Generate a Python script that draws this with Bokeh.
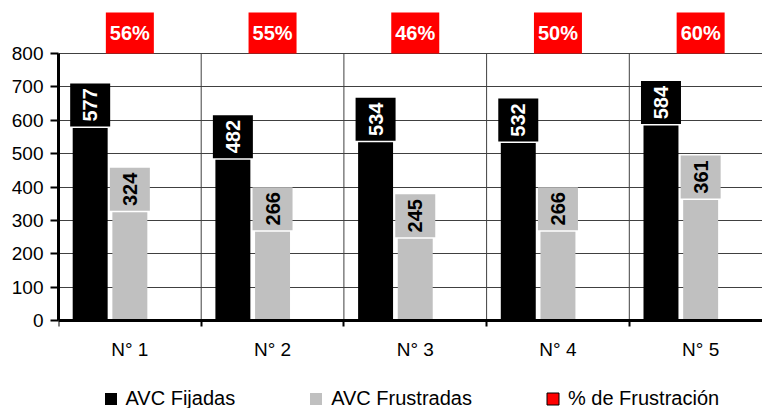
import numpy as np
from bokeh.plotting import figure
from bokeh.models import Range1d, FixedTicker, Legend, LegendItem
from bokeh.core.properties import value
from bokeh.embed import file_html
from bokeh.resources import INLINE

# ---- data ----
categories = ["N° 1", "N° 2", "N° 3", "N° 4", "N° 5"]
fijadas = [577, 482, 534, 532, 584]
frustradas = [324, 266, 245, 266, 361]
frustracion_pct = [56, 55, 46, 50, 60]
y_ticks = [0, 100, 200, 300, 400, 500, 600, 700, 800]
series_names = ["AVC Fijadas", "AVC Frustradas", "% de Frustración"]

# ---- geometry ----
W, H = 762, 408
BORDER_LEFT, BORDER_TOP = 58, 10
AXIS_Y_PX = 320          # pixel row of value 0
frame_w = W - BORDER_LEFT
CAT_PX = 142.7           # pixels per category
Y_PX = 0.33375           # pixels per value unit
x_end = frame_w / CAT_PX
y_end = (AXIS_Y_PX - BORDER_TOP) / Y_PX
y_start = -(H - AXIS_Y_PX) / Y_PX
y_max = y_ticks[-1]

FONT = value("Liberation Sans")
GRID = "#404040"

p = figure(width=W, height=H, x_range=Range1d(0, x_end), y_range=Range1d(y_start, y_end),
           output_backend="svg", toolbar_location=None,
           min_border_left=BORDER_LEFT, min_border_right=0,
           min_border_top=BORDER_TOP, min_border_bottom=0)
p.outline_line_color = None
p.background_fill_color = "white"
p.border_fill_color = "white"

n = len(categories)
xs = np.arange(n)
fx = xs + 0.5 - 0.278
gx = xs + 0.5
px_ = xs + 0.5 + 0.278
cx = xs + 0.5

# category separators
p.segment(x0=xs[1:], y0=0, x1=xs[1:], y1=y_max, line_color=GRID, line_width=1)

# bars
bar_w = 0.245
r_fij = p.vbar(x=fx, top=fijadas, width=bar_w, fill_color="black", line_color=None)
r_fru = p.vbar(x=gx, top=frustradas, width=bar_w, fill_color="#C0C0C0", line_color=None)
# third series (percentage) has zero height on the value axis, as in the original
r_pct_bar = p.vbar(x=px_, top=np.zeros(n), width=bar_w, fill_color="#FF0000",
                   line_color="black", line_width=1)

# value label boxes
box_w = 40 / CAT_PX
box_h = 43 / Y_PX
gap = 1.5 / Y_PX
fij = np.array(fijadas, dtype=float)
fru = np.array(frustradas, dtype=float)
p.quad(left=fx - box_w / 2, right=fx + box_w / 2, bottom=fij + gap, top=fij + gap + box_h,
       fill_color="black", line_color=None)
p.text(x=fx, y=fij + gap + box_h / 2, text=[str(v) for v in fijadas], angle=np.pi / 2,
       text_align="center", text_baseline="middle", text_color="white",
       text_font=FONT, text_font_style="bold", text_font_size="20px")
p.quad(left=gx - box_w / 2, right=gx + box_w / 2, bottom=fru + gap, top=fru + gap + box_h,
       fill_color="#C0C0C0", line_color=None)
p.text(x=gx, y=fru + gap + box_h / 2, text=[str(v) for v in frustradas], angle=np.pi / 2,
       text_align="center", text_baseline="middle", text_color="black",
       text_font=FONT, text_font_style="bold", text_font_size="20px")

# percentage boxes
pw = 48 / CAT_PX
ph = 41 / Y_PX
p.quad(left=cx - pw / 2, right=cx + pw / 2, bottom=y_max, top=y_max + ph,
       fill_color="#FF0000", line_color=None)
p.text(x=cx, y=y_max + ph / 2, text=[f"{v}%" for v in frustracion_pct],
       text_align="center", text_baseline="middle", text_color="white",
       text_font=FONT, text_font_style="bold", text_font_size="20px")

# y axis
p.yaxis.ticker = FixedTicker(ticks=y_ticks)
p.yaxis.bounds = (0, y_max)
p.yaxis.axis_line_width = 3
p.yaxis.axis_line_color = "black"
p.yaxis.major_tick_out = 8
p.yaxis.major_tick_in = 0
p.yaxis.major_tick_line_width = 2
p.yaxis.minor_tick_out = 0
p.yaxis.minor_tick_in = 0
p.yaxis.major_label_standoff = 7
p.yaxis.major_label_text_font = "Liberation Sans"
p.yaxis.major_label_text_font_size = "19px"
p.yaxis.major_label_text_color = "black"

p.ygrid.ticker = FixedTicker(ticks=y_ticks)
p.ygrid.grid_line_color = GRID
p.ygrid.grid_line_width = 1
p.xgrid.grid_line_color = None

# x axis drawn at value 0
p.xaxis.fixed_location = 0
p.xaxis.ticker = FixedTicker(ticks=[float(c) for c in cx], minor_ticks=[float(v) for v in xs])
p.xaxis.major_label_overrides = {float(c): lab for c, lab in zip(cx, categories)}
p.xaxis.axis_line_width = 3
p.xaxis.axis_line_color = "black"
p.xaxis.major_tick_out = 0
p.xaxis.major_tick_in = 0
p.xaxis.minor_tick_out = 6
p.xaxis.minor_tick_in = 0
p.xaxis.minor_tick_line_width = 2
p.xaxis.major_label_standoff = 12
p.xaxis.major_label_text_font = "Liberation Sans"
p.xaxis.major_label_text_font_size = "19px"
p.xaxis.major_label_text_color = "black"

legend = Legend(items=[LegendItem(label=series_names[0], renderers=[r_fij]),
                       LegendItem(label=series_names[1], renderers=[r_fru]),
                       LegendItem(label=series_names[2], renderers=[r_pct_bar])],
                orientation="horizontal", location=(44.5, -2),
                glyph_width=15, glyph_height=15, label_standoff=8, spacing=73,
                padding=0, margin=0, border_line_color=None, background_fill_alpha=0,
                label_text_font="Liberation Sans", label_text_font_size="20px",
                label_text_color="black", label_height=20)
p.add_layout(legend, "center")

open("out.html", "w").write(file_html(p, INLINE))
